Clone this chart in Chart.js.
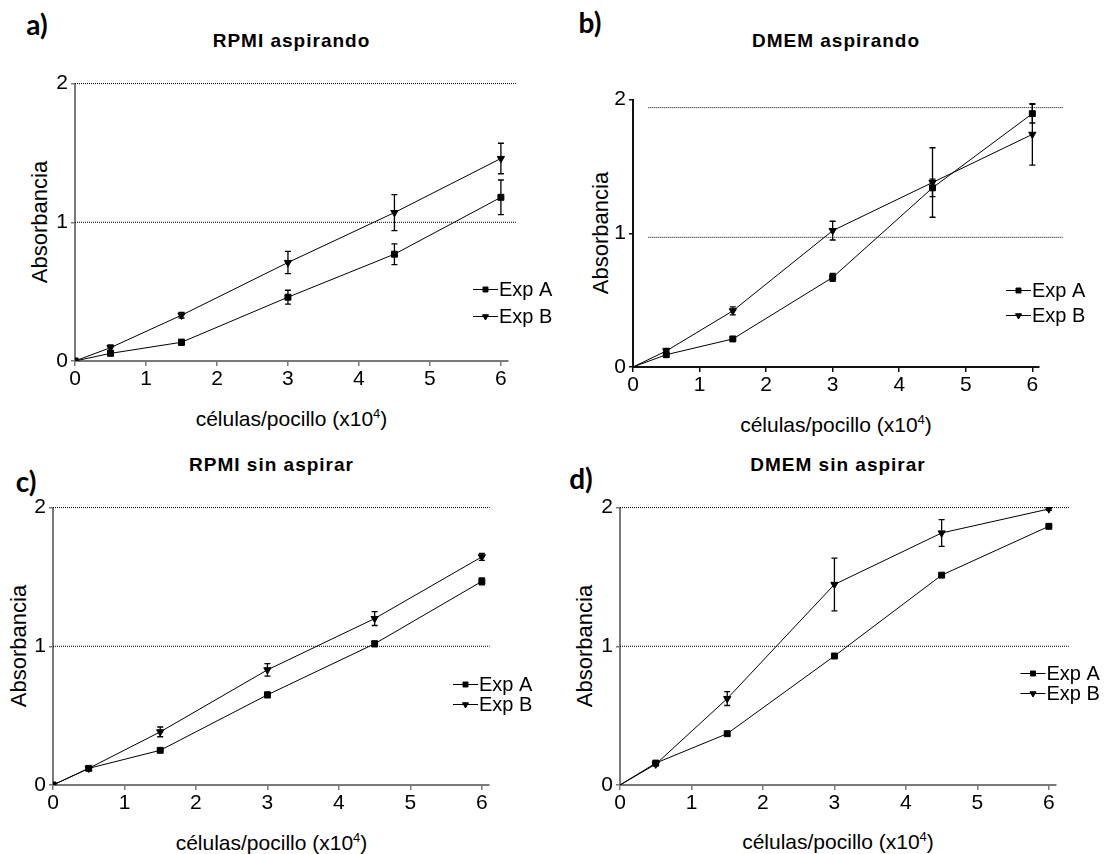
<!DOCTYPE html>
<html>
<head>
<meta charset="utf-8">
<script src="https://cdn.jsdelivr.net/npm/chart.js@4.4.1/dist/chart.umd.min.js"></script>
<style>
  body { margin: 0; background: #fff; width: 1109px; height: 854px; position: relative; overflow: hidden;
         font-family: "Liberation Sans", Arial, sans-serif; color: #000; }
  canvas { position: absolute; }
  .txt { position: absolute; transform: translate(-50%, -50%); white-space: nowrap; line-height: 1; }
  .panel { font-family: "Lato", sans-serif; font-weight: bold; font-size: 28px; }
  .title { font-weight: bold; font-size: 19px; letter-spacing: 1px; }
  .axt { font-size: 21px; }
  .ayt { font-size: 22px; }
  .rot { transform: translate(-50%, -50%) rotate(-90deg); }
  sup { font-size: 13px; line-height: 0; vertical-align: 8px; }
</style>
</head>
<body>
<div class="txt panel" style="left:37px;top:24px">a)</div>
<div class="txt panel" style="left:590px;top:22px">b)</div>
<div class="txt panel" style="left:26px;top:481px">c)</div>
<div class="txt panel" style="left:581px;top:478px">d)</div>

<div class="txt title" style="left:291.5px;top:39.5px">RPMI aspirando</div>
<div class="txt title" style="left:836px;top:39.5px">DMEM aspirando</div>
<div class="txt title" style="left:271.5px;top:464px">RPMI sin aspirar</div>
<div class="txt title" style="left:838px;top:464px">DMEM sin aspirar</div>

<div class="txt ayt rot" style="left:39.5px;top:222px">Absorbancia</div>
<div class="txt ayt rot" style="left:601px;top:233px">Absorbancia</div>
<div class="txt ayt rot" style="left:18.5px;top:646px">Absorbancia</div>
<div class="txt ayt rot" style="left:585px;top:645.5px">Absorbancia</div>

<div class="txt axt" style="left:291.5px;top:417.5px">células/pocillo (x10<sup>4</sup>)</div>
<div class="txt axt" style="left:836px;top:423.5px">células/pocillo (x10<sup>4</sup>)</div>
<div class="txt axt" style="left:271.5px;top:841.5px">células/pocillo (x10<sup>4</sup>)</div>
<div class="txt axt" style="left:838px;top:841px">células/pocillo (x10<sup>4</sup>)</div>

<canvas id="chartA"></canvas>
<canvas id="chartB"></canvas>
<canvas id="chartC"></canvas>
<canvas id="chartD"></canvas>

<script>
// cells per well (x10^4)
const cells = [0, 0.5, 1.5, 3, 4.5, 6];
const seriesNames = ["Exp A", "Exp B"];

// a) RPMI aspirando
const rpmiAspA = [0, 0.055, 0.135, 0.46, 0.77, 1.18];
const rpmiAspAErr = [0, 0.015, 0.02, 0.05, 0.075, 0.125];
const rpmiAspB = [0, 0.096, 0.33, 0.71, 1.07, 1.46];
const rpmiAspBErr = [0, 0.02, 0.02, 0.08, 0.13, 0.11];

// b) DMEM aspirando
const dmemAspA = [0, 0.092, 0.21, 0.67, 1.34, 1.895];
const dmemAspAErr = [0, 0.02, 0.01, 0.03, 0.065, 0.07];
const dmemAspB = [0, 0.12, 0.42, 1.02, 1.38, 1.74];
const dmemAspBErr = [0, 0.02, 0.03, 0.07, 0.26, 0.23];

// c) RPMI sin aspirar
const rpmiSinA = [0, 0.12, 0.25, 0.65, 1.018, 1.468];
const rpmiSinAErr = [0, 0.01, 0.01, 0.02, 0.02, 0.025];
const rpmiSinB = [0, 0.12, 0.383, 0.83, 1.2, 1.645];
const rpmiSinBErr = [0, 0.01, 0.035, 0.045, 0.05, 0.025];

// d) DMEM sin aspirar
const dmemSinA = [0, 0.158, 0.37, 0.93, 1.513, 1.865];
const dmemSinAErr = [0, 0.01, 0.01, 0.015, 0.01, 0.01];
const dmemSinB = [0, 0.15, 0.623, 1.446, 1.817, 1.99];
const dmemSinBErr = [0, 0.01, 0.05, 0.19, 0.097, 0.01];

// dotted reference lines: levels and x extent
const refLevelsA = [1, 2], refSpanA = [0, 6.21];
const refLevelsB = [0.97, 1.94], refSpanB = [0.23, 6.46];
const refLevelsC = [1, 2], refSpanC = [0, 6.11];
const refLevelsD = [1, 2], refSpanD = [0, 6.28];

const yTicks = [0, 1, 2];
const xTicks = [0, 1, 2, 3, 4, 5, 6];

// error bars plugin
const errorBars = {
  id: "errorBars",
  afterDatasetsDraw(chart) {
    const ctx = chart.ctx;
    const ys = chart.scales.y;
    chart.data.datasets.forEach((ds, i) => {
      if (!ds.errors) return;
      const meta = chart.getDatasetMeta(i);
      meta.data.forEach((pt, j) => {
        const e = ds.errors[j];
        if (!e) return;
        const v = ds.data[j].y;
        const top = ys.getPixelForValue(v + e);
        const bot = ys.getPixelForValue(v - e);
        ctx.save();
        ctx.strokeStyle = "#000";
        ctx.lineWidth = 1.3;
        ctx.beginPath();
        ctx.moveTo(pt.x, top); ctx.lineTo(pt.x, bot);
        ctx.moveTo(pt.x - 3, top); ctx.lineTo(pt.x + 3, top);
        ctx.moveTo(pt.x - 3, bot); ctx.lineTo(pt.x + 3, bot);
        ctx.stroke();
        ctx.restore();
      });
    });
  }
};

// legend drawn inside the plot, line + marker + label
const sideLegend = {
  id: "sideLegend",
  afterDraw(chart, args, opts) {
    const ctx = chart.ctx, area = chart.chartArea;
    let row = 0;
    chart.data.datasets.forEach(ds => {
      if (!ds.label) return;
      const x0 = area.right + opts.dx;
      const yy = Math.round(area.top + opts.dy + row * opts.gap) + 0.5;
      ctx.save();
      ctx.strokeStyle = "#000";
      ctx.fillStyle = "#000";
      ctx.lineWidth = 1;
      ctx.beginPath();
      ctx.moveTo(x0, yy); ctx.lineTo(x0 + 25, yy);
      ctx.stroke();
      Chart.helpers.drawPoint(ctx, { pointStyle: ds.pointStyle, rotation: ds.pointRotation || 0, radius: 3.5, borderWidth: 1 }, x0 + 12.5, yy);
      ctx.font = '20px "Liberation Sans", Arial, sans-serif';
      ctx.textBaseline = "middle";
      ctx.fillText(ds.label, x0 + 26, yy + 1);
      ctx.restore();
      row++;
    });
  }
};

function toPoints(vals) {
  return cells.map((c, i) => ({ x: c, y: vals[i] }));
}

function makePanel(id, area, axisColor, valsA, errA, valsB, errB, refLevels, refSpan, showOrigin, legendPos) {
  const padTop = 15, yW = 50, xH = 32, padRight = 75;
  const cv = document.getElementById(id);
  cv.width = Math.round(area.R - area.L + yW + padRight);
  cv.height = Math.round(area.B - area.T + padTop + xH);
  cv.style.left = (area.L - yW) + "px";
  cv.style.top = (area.T - padTop) + "px";

  const radius = ctx => (ctx.dataIndex === 0 && !showOrigin) ? 0 : 4.2;
  const refSets = refLevels.map(v => ({
    label: "",
    data: [{ x: refSpan[0], y: v }, { x: refSpan[1], y: v }],
    borderColor: "#000",
    borderWidth: 1,
    borderDash: [1, 1],
    pointRadius: 0,
    clip: false
  }));

  const tickFont = { size: 21, family: '"Liberation Sans", Arial, sans-serif' };

  new Chart(cv, {
    type: "line",
    data: {
      datasets: [
        {
          label: seriesNames[0],
          data: toPoints(valsA),
          errors: errA,
          borderColor: "#000", borderWidth: 1,
          pointStyle: "rect", pointRadius: radius,
          pointBackgroundColor: "#000", pointBorderColor: "#000",
          tension: 0
        },
        {
          label: seriesNames[1],
          data: toPoints(valsB),
          errors: errB,
          borderColor: "#000", borderWidth: 1,
          pointStyle: "triangle", pointRotation: 180, pointRadius: radius,
          pointBackgroundColor: "#000", pointBorderColor: "#000",
          tension: 0
        },
        ...refSets
      ]
    },
    options: {
      responsive: false,
      animation: false,
      events: [],
      layout: { padding: { left: 0, top: padTop, right: padRight, bottom: 0 } },
      plugins: {
        legend: { display: false },
        tooltip: { enabled: false },
        sideLegend: legendPos
      },
      scales: {
        x: {
          type: "linear", min: 0, max: 6.1,
          afterFit(s) { s.height = xH; },
          afterBuildTicks(s) { s.ticks = xTicks.map(v => ({ value: v })); },
          ticks: { color: "#000", font: tickFont, padding: 1, maxRotation: 0, autoSkip: false, includeBounds: false },
          grid: { drawOnChartArea: false, drawTicks: true, tickLength: 5, color: axisColor, lineWidth: 1.5 },
          border: { color: axisColor, width: 2 }
        },
        y: {
          min: 0, max: 2,
          afterFit(s) { s.width = yW; },
          afterBuildTicks(s) { s.ticks = yTicks.map(v => ({ value: v })); },
          ticks: { color: "#000", font: tickFont, padding: 3 },
          grid: { drawOnChartArea: false, drawTicks: true, tickLength: 4, color: axisColor, lineWidth: 1.5 },
          border: { color: axisColor, width: 2 }
        }
      }
    },
    plugins: [errorBars, sideLegend]
  });
}

makePanel("chartA", { L: 75, T: 83.3, R: 508, B: 361 }, "#7a7a7a",
  rpmiAspA, rpmiAspAErr, rpmiAspB, rpmiAspBErr, refLevelsA, refSpanA, true,
  { dx: -35, dy: 205, gap: 27 });

makePanel("chartB", { L: 633, T: 99, R: 1039, B: 367.3 }, "#111",
  dmemAspA, dmemAspAErr, dmemAspB, dmemAspBErr, refLevelsB, refSpanB, false,
  { dx: -33, dy: 190, gap: 25 });

makePanel("chartC", { L: 53.3, T: 506.7, R: 489.5, B: 785 }, "#7a7a7a",
  rpmiSinA, rpmiSinAErr, rpmiSinB, rpmiSinBErr, refLevelsC, refSpanC, true,
  { dx: -36, dy: 176, gap: 20 });

makePanel("chartD", { L: 620, T: 506.7, R: 1055.5, B: 784.3 }, "#7a7a7a",
  dmemSinA, dmemSinAErr, dmemSinB, dmemSinBErr, refLevelsD, refSpanD, false,
  { dx: -35.5, dy: 165, gap: 20 });
</script>
</body>
</html>
